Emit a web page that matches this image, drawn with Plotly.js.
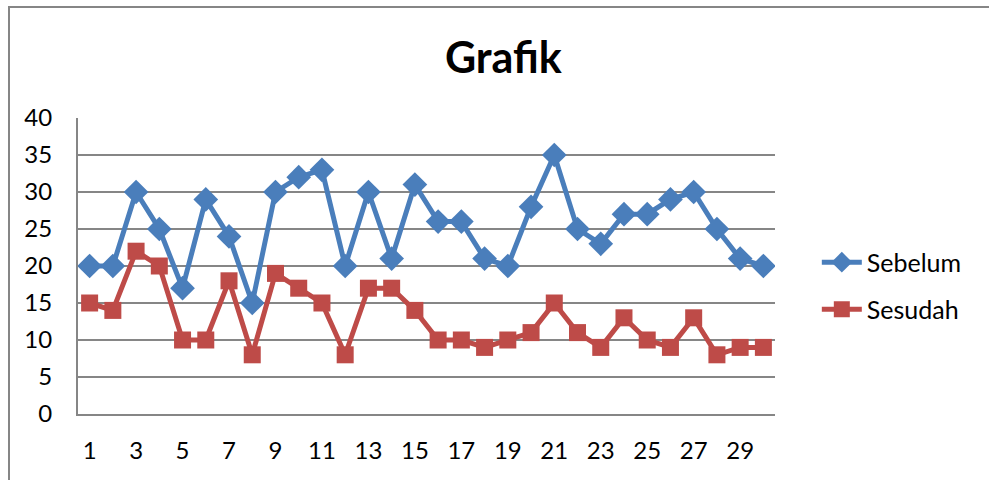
<!DOCTYPE html>
<html><head><meta charset="utf-8">
<script src="https://cdn.plot.ly/plotly-3.0.1.min.js"></script>
<style>html,body{margin:0;padding:0;background:#fff;}#chart{width:989px;height:480px;}</style>
</head><body><div id="chart"></div>
<script>
const categories = [1,2,3,4,5,6,7,8,9,10,11,12,13,14,15,16,17,18,19,20,21,22,23,24,25,26,27,28,29,30];
const sebelum = [20,20,30,25,17,29,24,15,30,32,33,20,30,21,31,26,26,21,20,28,35,25,23,27,27,29,30,25,21,20];
const sesudah = [15,14,22,20,10,10,18,8,19,17,15,8,17,17,14,10,10,9,10,11,15,11,9,13,10,9,13,8,9,9];
const xTickVals = [1,3,5,7,9,11,13,15,17,19,21,23,25,27,29];
const yTickVals = [0,5,10,15,20,25,30,35,40];

const font = "Lato, 'Open Sans', sans-serif";
const traces = [
  {x: categories, y: sebelum, name: 'Sebelum', type: 'scatter', mode: 'lines+markers',
   line: {color: '#4a7ebb', width: 5}, marker: {symbol: 'diamond', size: 19, color: '#4a7ebb'}, legend: 'legend'},
  {x: categories, y: sesudah, name: 'Sesudah', type: 'scatter', mode: 'lines+markers',
   line: {color: '#be4b48', width: 5}, marker: {symbol: 'square', size: 17, color: '#be4b48'}, legend: 'legend2'}
];
const legendBase = {font: {family: font, size: 25, color: '#000'}, bgcolor: 'rgba(0,0,0,0)', xanchor: 'left', yanchor: 'middle', x: 1.06, itemwidth: 40};
const layout = {
  width: 989, height: 480,
  margin: {l: 78, r: 214, t: 118, b: 66},
  paper_bgcolor: '#fff', plot_bgcolor: '#fff',
  title: {text: '<b>Grafik</b>', font: {family: font, size: 43, color: '#000'}, xref: 'container', x: 0.509, xanchor: 'center', yref: 'container', y: 0.88, yanchor: 'middle'},
  xaxis: {range: [0.5, 30.5], tickvals: xTickVals, ticktext: xTickVals.map(String), showgrid: false, zeroline: false,
    showline: true, linecolor: '#868686', linewidth: 2, ticks: '', ticklabelstandoff: 14,
    tickfont: {family: font, size: 24, color: '#000'}},
  yaxis: {range: [0, 40], tickvals: yTickVals, showgrid: true, gridcolor: '#868686', gridwidth: 1.5, zeroline: false,
    showline: true, linecolor: '#868686', linewidth: 2, ticks: '', ticklabelstandoff: 19,
    tickfont: {family: font, size: 24, color: '#000'}},
  showlegend: true,
  legend: Object.assign({}, legendBase, {y: 0.512}),
  legend2: Object.assign({}, legendBase, {y: 0.353}),
  shapes: [
    {type: 'rect', xref: 'paper', yref: 'paper', x0: -0.099, x1: 1.5, y0: -0.5, y1: 1.375, line: {color: '#868686', width: 2}, fillcolor: 'rgba(0,0,0,0)', layer: 'below'}
  ]
};
Plotly.newPlot('chart', traces, layout, {displayModeBar: false, staticPlot: true});
</script></body></html>
